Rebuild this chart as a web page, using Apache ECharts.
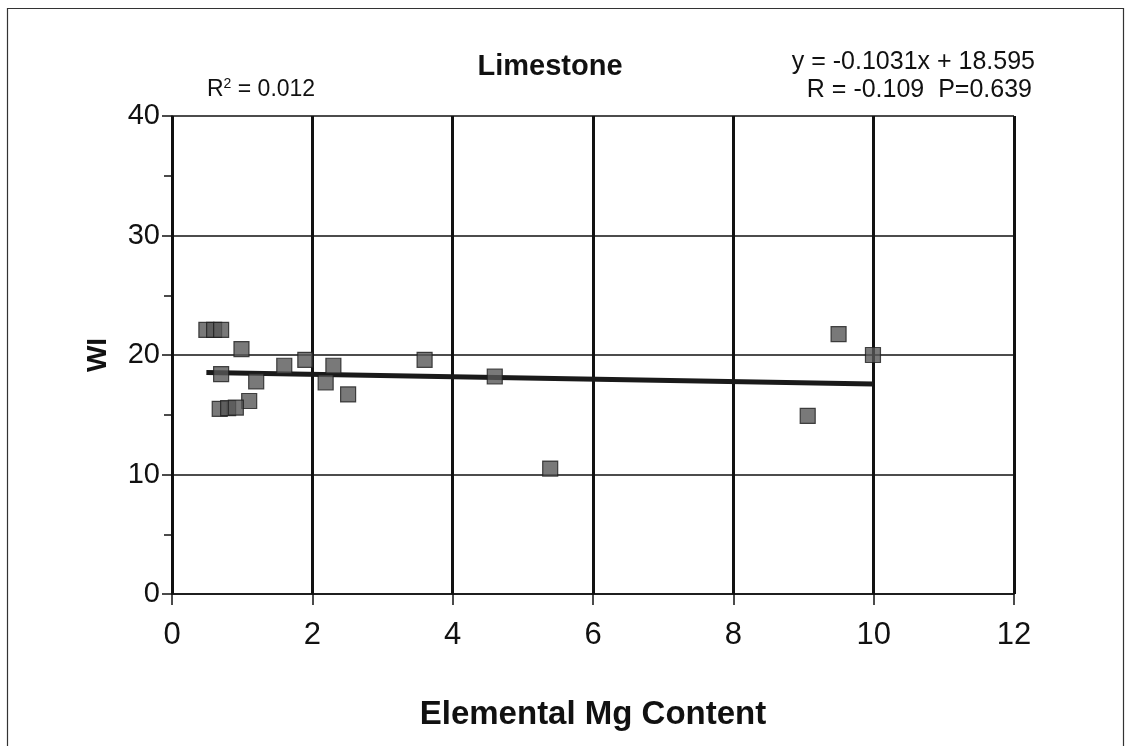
<!DOCTYPE html>
<html>
<head>
<meta charset="utf-8">
<title>Limestone</title>
<script src="https://cdn.jsdelivr.net/npm/echarts@6/dist/echarts.min.js"></script>
<style>
  html, body { margin: 0; padding: 0; background: #fff; }
  #chart { width: 1125px; height: 746px; }
</style>
</head>
<body>
<div id="chart"></div>
<script>
// Elemental Mg content vs. WI for limestone samples
const mgContent = [0.49, 0.60, 0.70, 0.99, 1.90, 1.60, 2.30, 0.70, 1.20, 2.19, 2.51, 1.10, 0.68, 0.80, 0.91, 3.60, 4.60, 5.39, 9.99, 9.50, 9.06];
const wiValues  = [22.1, 22.1, 22.1, 20.5, 19.6, 19.1, 19.1, 18.4, 17.8, 17.7, 16.7, 16.15, 15.5, 15.55, 15.6, 19.6, 18.2, 10.5, 20.0, 21.75, 14.9];

// Linear fit reported on the chart
const fitSlope = -0.1031;
const fitIntercept = 18.595;
const fitText = ['y = -0.1031x + 18.595', 'R = -0.109  P=0.639'];
const r2Text = '0.012';

const xTicks = { min: 0, max: 12, step: 2 };
const yTicks = { min: 0, max: 40, step: 10 };

const points = mgContent.map((x, i) => [x, wiValues[i]]);
const xLo = Math.min(...mgContent), xHi = Math.max(...mgContent);
const fitLine = [[xLo, fitSlope * xLo + fitIntercept], [xHi, fitSlope * xHi + fitIntercept]];

const chart = echarts.init(document.getElementById('chart'), null, { renderer: 'canvas' });
const sans = '"Liberation Sans", Arial, sans-serif';

chart.setOption({
  backgroundColor: '#fff',
  animation: false,
  title: {
    text: 'Limestone',
    left: 545, top: 47,
    textAlign: 'center',
    textStyle: { fontFamily: sans, fontWeight: 'bold', fontSize: 29, color: '#111' }
  },
  grid: { left: 172, top: 116, right: 111, bottom: 152 },
  xAxis: {
    type: 'value',
    min: xTicks.min, max: xTicks.max, interval: xTicks.step,
    name: 'Elemental Mg Content',
    nameLocation: 'middle',
    nameGap: 104,
    nameTextStyle: { fontFamily: sans, fontWeight: 'bold', fontSize: 33, color: '#111' },
    axisLine: { show: true, lineStyle: { color: '#111', width: 1.5 } },
    axisTick: { show: true, length: 11, lineStyle: { color: '#111', width: 1.5 } },
    axisLabel: { margin: 26, fontFamily: sans, fontSize: 31, color: '#111' },
    splitLine: { show: true, lineStyle: { color: '#111', width: 3 } }
  },
  yAxis: {
    type: 'value',
    min: yTicks.min, max: yTicks.max, interval: yTicks.step,
    name: 'WI',
    nameLocation: 'middle',
    nameGap: 60,
    nameRotate: 90,
    nameTextStyle: { fontFamily: sans, fontWeight: 'bold', fontSize: 28, color: '#111' },
    axisLine: { show: true, lineStyle: { color: '#111', width: 1.5 } },
    axisTick: { show: true, length: 10, lineStyle: { color: '#111', width: 1.5 } },
    minorTick: { show: true, splitNumber: 2, length: 8, lineStyle: { color: '#111', width: 1.5 } },
    axisLabel: { margin: 12, fontFamily: sans, fontSize: 29, color: '#111' },
    splitLine: { show: true, lineStyle: { color: '#111', width: 1.5 } }
  },
  graphic: [
    { type: 'rect', left: 5, top: 6, z: -1,
      shape: { width: 1116, height: 800 },
      style: { fill: 'none', stroke: '#333', lineWidth: 1.2 } },
    { type: 'text', left: 207, top: 77,
      style: { text: '{t|R}{s|2}{t| = ' + r2Text + '}',
        rich: {
          t: { fontFamily: sans, fontSize: 23, fill: '#111' },
          s: { fontFamily: sans, fontSize: 14, fill: '#111', verticalAlign: 'top', padding: [0, 0, 12, 0] }
        } } },
    { type: 'text', right: 90, top: 50,
      style: { text: fitText[0], fontFamily: sans, fontSize: 25, fill: '#111', align: 'right' } },
    { type: 'text', right: 93, top: 78,
      style: { text: fitText[1], fontFamily: sans, fontSize: 25, fill: '#111', align: 'right' } }
  ],
  series: [
    {
      type: 'line',
      data: fitLine,
      symbol: 'none',
      lineStyle: { color: '#1a1a1a', width: 5 },
      z: 3
    },
    {
      type: 'scatter',
      data: points,
      symbol: 'rect',
      symbolSize: 15,
      itemStyle: { color: '#575757', borderColor: '#1e1e1e', borderWidth: 1.2 },
      z: 4
    }
  ]
});
</script>
</body>
</html>
